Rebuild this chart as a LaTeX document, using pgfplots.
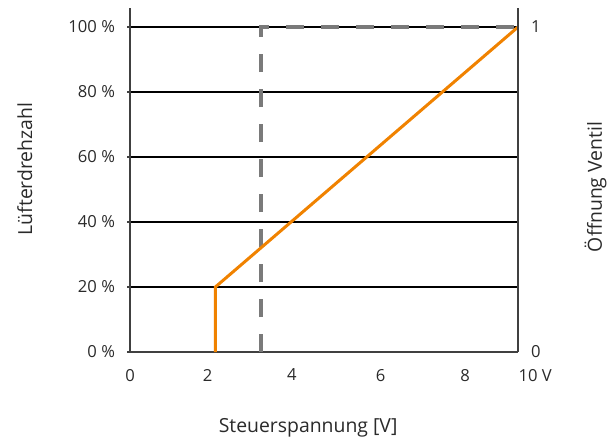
\documentclass[border=0pt]{standalone}
\usepackage{fontspec}
\setmainfont{Open Sans}
\usepackage{pgfplots}
\pgfplotsset{compat=1.18}
\definecolor{lineorange}{HTML}{F08200}
\definecolor{dashgray}{HTML}{7A7A7A}
\definecolor{axisgray}{HTML}{404040}
\definecolor{textgray}{HTML}{2A2A2A}
\begin{document}
\begin{tikzpicture}
\useasboundingbox (0pt,0pt) rectangle (307pt,222.5pt);
\begin{axis}[
  at={(65pt,46.5pt)}, anchor=south west,
  scale only axis, width=194pt, height=172pt,
  xmin=0, xmax=10, ymin=0, ymax=105.85,
  axis x line*=bottom, axis y line*=left,
  axis line style={-, axisgray, line width=0.9pt},
  xtick={0,2,4.17,6.46,8.64,10},
  xticklabels={0,2,4,6,8,{\makebox[0pt][l]{\hspace{0.3pt}10 V}}},
  ytick={0,20,40,60,80,100},
  yticklabels={0 \%,20 \%,40 \%,60 \%,80 \%,100 \%},
  major x tick style={draw=none},
  ytick style={axisgray, line width=0.9pt},
  tick align=outside, major tick length=1.5pt,
  ymajorgrids, grid style={black, line width=0.55pt},
  ticklabel style={font=\fontsize{8.3}{10}\selectfont, text=textgray},
  /pgf/number format/assume math mode=true,
  xticklabel style={yshift=-3.5pt},
  yticklabel style={xshift=-2.5pt},
  xlabel={Steuerspannung [V]},
  ylabel={Lüfterdrehzahl},
  label style={font=\fontsize{9.7}{11}\selectfont, text=textgray},
  xlabel style={at={(axis description cs:0.459,-0.221)}, anchor=center},
  ylabel style={at={(axis description cs:-0.271,0.532)}, anchor=center, rotate=0},
  clip=false,
]
\addplot[dashgray, line width=2pt, dash pattern=on 9pt off 8.5pt] coordinates {(3.37,0) (3.37,100) (10,100)};
\addplot[lineorange, line width=1.5pt] coordinates {(2.2,0) (2.2,20) (10,100)};
\end{axis}
\begin{axis}[
  at={(65pt,46.5pt)}, anchor=south west,
  scale only axis, width=194pt, height=172pt,
  xmin=0, xmax=10, ymin=0, ymax=1.0585,
  axis x line=none, axis y line*=right,
  axis line style={-, axisgray, line width=0.9pt},
  ytick={0,1},
  ytick style={draw=none},
  ticklabel style={font=\fontsize{8.3}{10}\selectfont, text=textgray},
  /pgf/number format/assume math mode=true,
  yticklabel style={xshift=3pt},
  ylabel={Öffnung Ventil},
  label style={font=\fontsize{9.7}{11}\selectfont, text=textgray},
  ylabel style={at={(axis description cs:1.2,0.48)}, anchor=center, rotate=0},
]
\addplot[draw=none] coordinates {(0,0)};
\end{axis}
\end{tikzpicture}
\end{document}
